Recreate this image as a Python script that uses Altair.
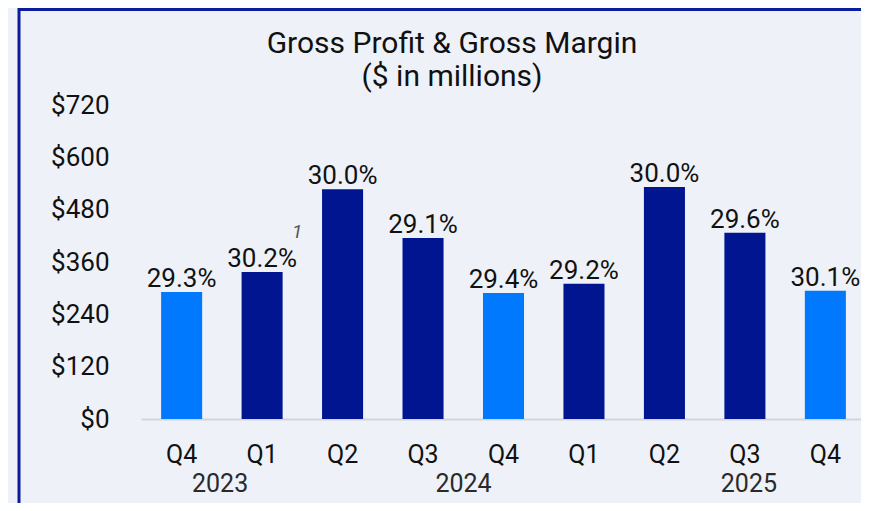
import altair as alt
import pandas as pd

categories = ["Q4 2023", "Q1 2024", "Q2 2024", "Q3 2024", "Q4 2024",
              "Q1 2025", "Q2 2025", "Q3 2025", "Q4 2025"]
gross_profit = [291, 337, 527, 415, 289, 310, 532, 427, 294]
gross_margin = ["29.3%", "30.2%", "30.0%", "29.1%", "29.4%",
                "29.2%", "30.0%", "29.6%", "30.1%"]
bar_group = ["Q4", "Other", "Other", "Other", "Q4", "Other", "Other", "Other", "Q4"]

years = ["2023", "2024", "2025"]
year_anchor = ["Q1 2024", "Q4 2024", "Q3 2025"]
year_shift = [-42, -40, 4]

y_ticks = [0, 120, 240, 360, 480, 600, 720]
title_lines = ["Gross Profit & Gross Margin", "($ in millions)"]
footnote = "1"

FONT = "Roboto"
LIGHT = "#0079FF"
NAVY = "#00158F"
BG = "#EEF2F8"

df = pd.DataFrame({"cat": categories, "gp": gross_profit,
                   "gm": gross_margin, "grp": bar_group})

x_enc = alt.X("cat:N", sort=categories,
              scale=alt.Scale(paddingInner=0.49, paddingOuter=0.25, range=[0, 725]),
              axis=alt.Axis(title=None, labelAngle=0, ticks=False,
                            domainColor="#D2D5DC", domainWidth=2,
                            labelExpr="substring(datum.value, 0, 2)",
                            labelFont=FONT, labelFontSize=25,
                            labelColor="#111111", labelPadding=23))
y_enc = alt.Y("gp:Q", scale=alt.Scale(domain=[0, 720], nice=False),
              axis=alt.Axis(title=None, values=y_ticks, grid=False, domain=False,
                            ticks=False, labelExpr="'$' + datum.value",
                            labelFont=FONT, labelFontSize=26,
                            labelColor="#111111", labelPadding=32))

bars = alt.Chart(df).mark_bar().encode(
    x=x_enc, y=y_enc,
    color=alt.Color("grp:N", scale=alt.Scale(domain=["Q4", "Other"],
                                             range=[LIGHT, NAVY]), legend=None))

labels = alt.Chart(df).mark_text(font=FONT, fontSize=26, color="#111111",
                                 baseline="alphabetic", dy=-5).encode(
    x=alt.X("cat:N", sort=categories), y="gp:Q", text="gm:N")

year_layers = []
for yr, anc, sh in zip(years, year_anchor, year_shift):
    d = pd.DataFrame({"year": [yr], "cat": [anc]})
    year_layers.append(
        alt.Chart(d).mark_text(font=FONT, fontSize=25, color="#2A2A2A",
                               baseline="middle", dx=sh).encode(
            x=alt.X("cat:N", sort=categories), y=alt.value(379), text="year:N"))

foot = alt.Chart(pd.DataFrame({"cat": ["Q1 2024"], "t": [footnote]})).mark_text(
    font=FONT, fontSize=19, fontStyle="italic", color="#555555",
    baseline="alphabetic", dx=35).encode(
    x=alt.X("cat:N", sort=categories), y=alt.value(133), text="t:N")

title = alt.Chart(pd.DataFrame({"a": [0]})).mark_text(
    text=title_lines, font=FONT, fontSize=30, lineHeight=33,
    color="#111111", baseline="alphabetic").encode(
    x=alt.value(311), y=alt.value(-52))

frame = alt.Chart(pd.DataFrame({"a": [0]})).mark_rect(
    filled=False, stroke="#0B1C9C", strokeWidth=3).encode(
    x=alt.value(-122), x2=alt.value(760), y=alt.value(-95.5), y2=alt.value(420))

chart = alt.layer(frame, bars, labels, foot, title, *year_layers).properties(
    width=712, height=314,
    background=BG,
    autosize=alt.AutoSizeParams(type="none"),
    padding={"left": 133, "top": 97, "right": 8, "bottom": 84},
).configure_view(stroke=None)

chart.save("out.html", embed_options={"renderer": "svg", "actions": False})
